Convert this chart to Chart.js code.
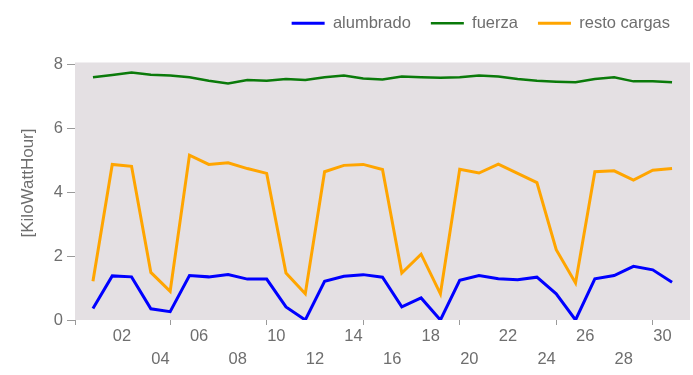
<!DOCTYPE html>
<html>
<head>
<meta charset="utf-8">
<script src="https://cdn.jsdelivr.net/npm/chart.js@4"></script>
<style>
  html, body { margin: 0; padding: 0; background: #fff; }
  canvas { display: block; }
</style>
</head>
<body>
<canvas id="chart" width="693" height="375"></canvas>
<script>
// Day of month for each reading
const days = [1, 2, 3, 4, 5, 6, 7, 8, 9, 10, 11, 12, 13, 14, 15, 16,
              17, 18, 19, 20, 21, 22, 23, 24, 25, 26, 27, 28, 29, 30, 31];

// Daily energy per circuit [KiloWattHour]
const alumbrado = [0.36, 1.38, 1.35, 0.35, 0.26, 1.39, 1.35, 1.42, 1.28, 1.28, 0.41, 0.00, 1.21, 1.37, 1.42, 1.34,
                   0.41, 0.69, 0.00, 1.24, 1.39, 1.29, 1.26, 1.34, 0.82, 0.00, 1.29, 1.39, 1.68, 1.57, 1.18];
const fuerza = [7.60, 7.67, 7.75, 7.68, 7.65, 7.60, 7.49, 7.40, 7.51, 7.49, 7.54, 7.51, 7.60, 7.65, 7.56, 7.53,
                7.62, 7.60, 7.58, 7.60, 7.65, 7.62, 7.54, 7.49, 7.46, 7.44, 7.54, 7.60, 7.47, 7.47, 7.44];
const restoCargas = [1.21, 4.87, 4.81, 1.49, 0.90, 5.16, 4.87, 4.92, 4.74, 4.59, 1.47, 0.82, 4.64, 4.84, 4.87, 4.71,
                     1.47, 2.06, 0.82, 4.72, 4.60, 4.88, 4.59, 4.30, 2.20, 1.16, 4.64, 4.67, 4.38, 4.69, 4.74];

// Axis labelling
const dayLabels = ['02', '04', '06', '08', '10', '12', '14', '16', '18', '20', '22', '24', '26', '28', '30'];
const dayMarks = [5, 10, 15, 20, 25, 30];
const yTicks = [0, 2, 4, 6, 8];

const X_MIN = 0.07, X_MAX = 31.93;
const TEXT = '#6e6e6e';
const FONT = "'Liberation Sans', Arial, sans-serif";

const toPoints = (vals) => vals.map((v, i) => ({ x: days[i], y: v }));

const plotBackground = {
  id: 'plotBackground',
  beforeDraw(chart) {
    const { ctx, chartArea: a } = chart;
    ctx.save();
    ctx.fillStyle = '#e4e0e3';
    ctx.fillRect(a.left, a.top, a.right - a.left, a.bottom - a.top);
    ctx.restore();
  }
};

const yTitle = {
  id: 'yTitle',
  afterDraw(chart) {
    const { ctx } = chart;
    ctx.save();
    ctx.translate(28, 183);
    ctx.rotate(-Math.PI / 2);
    ctx.font = '17px ' + FONT;
    ctx.fillStyle = TEXT;
    ctx.textAlign = 'center';
    ctx.textBaseline = 'middle';
    ctx.fillText('[KiloWattHour]', 0, 0);
    ctx.restore();
  }
};

const legendGap = {
  id: 'legendGap',
  beforeInit(chart) {
    const legend = chart.legend;
    if (!legend) return;
    const fit = legend.fit;
    legend.fit = function () {
      fit.call(this);
      this.height += 21;
    };
  }
};

new Chart(document.getElementById('chart'), {
  type: 'line',
  data: {
    datasets: [
      { label: 'alumbrado', data: toPoints(alumbrado), borderColor: '#0000ff', backgroundColor: '#0000ff', borderWidth: 3 },
      { label: 'fuerza', data: toPoints(fuerza), borderColor: '#0a7a0a', backgroundColor: '#0a7a0a', borderWidth: 2.5 },
      { label: 'resto cargas', data: toPoints(restoCargas), borderColor: '#ffa500', backgroundColor: '#ffa500', borderWidth: 3 }
    ]
  },
  options: {
    responsive: false,
    animation: false,
    devicePixelRatio: 1,
    layout: { padding: { top: -5, right: 3, bottom: 0, left: 0 } },
    elements: { point: { radius: 0, hoverRadius: 0 }, line: { tension: 0 } },
    plugins: {
      tooltip: { enabled: false },
      legend: {
        position: 'top',
        align: 'end',
        labels: {
          usePointStyle: true,
          pointStyle: 'line',
          pointStyleWidth: 33,
          padding: 20,
          color: TEXT,
          font: { family: FONT, size: 16.5 }
        }
      }
    },
    scales: {
      x: {
        type: 'linear',
        min: X_MIN,
        max: X_MAX,
        afterBuildTicks(scale) {
          const ticks = [{ value: X_MIN, mark: true }];
          dayMarks.forEach(d => ticks.push({ value: d, mark: true }));
          dayLabels.forEach((lab, i) => ticks.push({ value: parseInt(lab, 10) + 0.5, text: lab, row: i % 2 }));
          ticks.sort((a, b) => a.value - b.value);
          scale.ticks = ticks;
        },
        afterFit(scale) { scale.height = 55; },
        border: { display: false },
        grid: {
          drawOnChartArea: false,
          drawTicks: true,
          tickLength: 5,
          tickWidth: 1,
          tickColor: (c) => (c.tick && c.tick.mark ? '#9a9a9a' : 'rgba(0,0,0,0)')
        },
        ticks: {
          autoSkip: false,
          maxRotation: 0,
          minRotation: 0,
          padding: -0.5,
          color: TEXT,
          font: { family: FONT, size: 16.5, lineHeight: 23 / 16.5 },
          callback(value, index, ticks) {
            const t = ticks[index];
            if (!t || t.mark) return '';
            return t.row === 0 ? [t.text, ''] : ['', t.text];
          }
        }
      },
      y: {
        min: 0,
        max: 8.06,
        afterBuildTicks(scale) { scale.ticks = yTicks.map(v => ({ value: v })); },
        afterFit(scale) { scale.width = 75; },
        border: { display: false },
        grid: {
          drawOnChartArea: false,
          drawTicks: true,
          tickLength: 8,
          tickColor: '#9a9a9a'
        },
        ticks: {
          padding: 4,
          color: TEXT,
          font: { family: FONT, size: 16.5 },
          callback: (v) => String(v)
        }
      }
    }
  },
  plugins: [plotBackground, yTitle, legendGap]
});
</script>
</body>
</html>
